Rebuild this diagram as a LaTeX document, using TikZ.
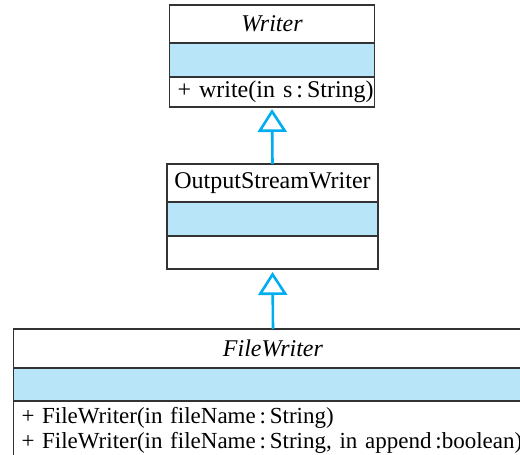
\documentclass[tikz,border=0pt]{standalone}
\usepackage{fontspec}
\setmainfont{Liberation Serif}
\usetikzlibrary{arrows.meta, positioning}
\definecolor{FieldBlue}{rgb}{0.725, 0.898, 0.973}
\definecolor{LinkCyan}{rgb}{0.0, 0.682, 0.937}
\definecolor{BorderGray}{rgb}{0.2, 0.2, 0.2}

\begin{document}
\begin{tikzpicture}[
    x=1pt, y=-1pt,
    font=\fontsize{24}{25}\selectfont,
    compart/.style={draw=BorderGray, line width=1.3pt, inner sep=0pt,
        outer sep=0pt, minimum width=#1},
    classname/.style={compart=#1, minimum height=38pt},
    fields/.style={compart=#1, fill=FieldBlue, minimum height=34pt},
    ops/.style={compart=#1, text width=#1-16pt, inner xsep=8pt,
        align=left, minimum height=30pt},
    extends/.style={-{Triangle[open, length=23pt, width=29pt]},
        line width=2.6pt, LinkCyan},
]
\useasboundingbox (0,0) rectangle (520,455);
\clip (0,0) rectangle (520,455);

% Writer
\node[classname=205pt, anchor=north] (writer) at (272,5) {\textit{Writer}};
\node[fields=205pt, below=0pt of writer] (writer-f) {};
\node[ops=205pt, below=0pt of writer-f] (writer-o) {\mbox{+ write(in s\,:\,String)}};

% OutputStreamWriter
\node[classname=211pt, anchor=north] (osw) at (272.5,164) {OutputStreamWriter};
\node[fields=211pt, below=0pt of osw] (osw-f) {};
\node[ops=211pt, minimum height=33pt, below=0pt of osw-f] (osw-o) {};

% FileWriter
\node[classname=519pt, minimum height=39pt, anchor=north] (file) at (273,329) {\textit{FileWriter}};
\node[fields=519pt, minimum height=33pt, below=0pt of file] (file-f) {};
\node[ops=519pt, minimum height=58pt, font=\fontsize{23}{25}\selectfont,
    below=0pt of file-f] (file-o)
    {\mbox{+ FileWriter(in fileName\,:\,String)}\\
     \mbox{+ FileWriter(in fileName\,:\,String, in append\,:boolean)}};

% generalizations
\draw[extends, shorten >=2pt] (osw.north) -- (writer-o.south);
\draw[extends, shorten >=3pt] (file.north) -- (osw-o.south);

\end{tikzpicture}
\end{document}
